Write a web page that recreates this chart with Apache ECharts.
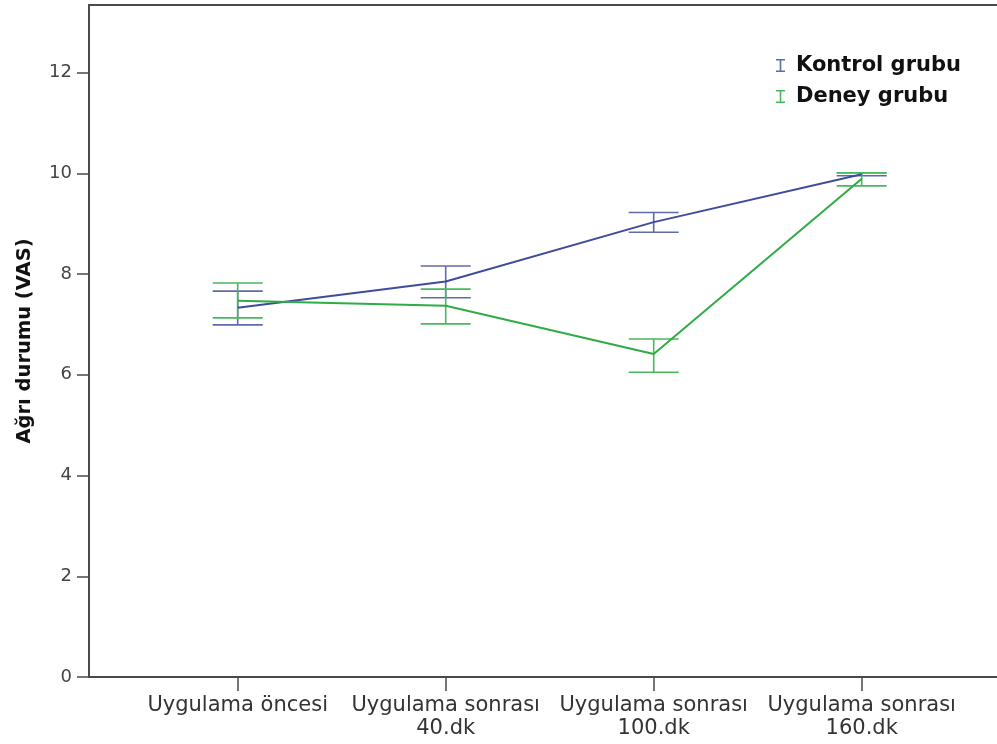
<!DOCTYPE html>
<html>
<head>
<meta charset="utf-8">
<script src="https://cdn.jsdelivr.net/npm/echarts@6/dist/echarts.min.js"></script>
<style>
  html, body { margin: 0; padding: 0; background: #fff; }
  #chart { width: 997px; height: 744px; }
</style>
</head>
<body>
<div id="chart"></div>
<script>
// Time points of the measurement
const categories = ['Uygulama öncesi', 'Uygulama sonrası\n40.dk', 'Uygulama sonrası\n100.dk', 'Uygulama sonrası\n160.dk'];

// Mean VAS pain score and error-bar limits per group
const kontrolMean = [7.33, 7.85, 9.03, 9.98];
const kontrolLow  = [6.99, 7.53, 8.83, 9.95];
const kontrolHigh = [7.66, 8.16, 9.22, 10.01];

const deneyMean = [7.47, 7.37, 6.41, 9.89];
const deneyLow  = [7.13, 7.01, 6.05, 9.75];
const deneyHigh = [7.82, 7.70, 6.71, 10.01];

const yTicks = [0, 2, 4, 6, 8, 10, 12];
const seriesNames = ['Kontrol grubu', 'Deney grubu'];

const BLUE_LINE = '#3f4c9c';
const BLUE_BAR = '#5f6aa8';
const GREEN_LINE = '#2eac45';
const GREEN_BAR = '#48b85c';
const FRAME = '#4a4a4a';
const Y_MAX = 13.34;

// I-beam glyph used as the legend icon
const errorIcon = 'path://M0,0h9v1.6h-3.7v9.8h3.7v1.6h-9v-1.6h3.7v-9.8h-3.7z';

function barData(low, high) {
  return categories.map((_, i) => [i, low[i], high[i]]);
}

function errorBarRenderer(color) {
  return function (params, api) {
    const i = api.value(0);
    const pLo = api.coord([i, api.value(1)]);
    const pHi = api.coord([i, api.value(2)]);
    const half = 25;
    const style = { stroke: color, lineWidth: 1.6 };
    return {
      type: 'group',
      children: [
        { type: 'line', shape: { x1: pLo[0], y1: pLo[1], x2: pHi[0], y2: pHi[1] }, style },
        { type: 'line', shape: { x1: pLo[0] - half, y1: pLo[1], x2: pLo[0] + half, y2: pLo[1] }, style },
        { type: 'line', shape: { x1: pHi[0] - half, y1: pHi[1], x2: pHi[0] + half, y2: pHi[1] }, style }
      ]
    };
  };
}

const chart = echarts.init(document.getElementById('chart'), null, { renderer: 'canvas' });

const frameAxis = (position) => ({
  gridIndex: 0,
  type: 'value',
  position,
  min: 0,
  max: 1,
  axisLine: { show: true, lineStyle: { color: FRAME, width: 2 } },
  axisTick: { show: false },
  axisLabel: { show: false },
  splitLine: { show: false }
});

chart.setOption({
  backgroundColor: '#ffffff',
  animation: false,
  textStyle: { fontFamily: 'DejaVu Sans' },
  grid: [
    // open frame with the value axis, running off the right edge
    { left: 89, top: 5, width: 1000, height: 672, containLabel: false },
    // plotting area for the four time points
    { left: 133.7, top: 5, width: 832, height: 672, containLabel: false }
  ],
  legend: {
    orient: 'vertical',
    left: 771,
    top: 50,
    itemWidth: 9,
    itemHeight: 13,
    itemGap: 10,
    selectedMode: false,
    textStyle: { fontFamily: 'DejaVu Sans', fontWeight: 'bold', fontSize: 21, color: '#111', padding: [0, 0, 0, 6] },
    data: [
      { name: seriesNames[0], icon: errorIcon, itemStyle: { color: BLUE_BAR } },
      { name: seriesNames[1], icon: errorIcon, itemStyle: { color: GREEN_BAR } }
    ]
  },
  xAxis: [
    frameAxis('bottom'),
    frameAxis('top'),
    {
      gridIndex: 1,
      type: 'category',
      data: categories,
      boundaryGap: true,
      axisLine: { show: false },
      axisTick: { show: true, alignWithLabel: true, length: 14, lineStyle: { color: FRAME, width: 1.5 } },
      axisLabel: { fontFamily: 'DejaVu Sans', fontSize: 21, color: '#333', lineHeight: 23, margin: 17, interval: 0 },
      splitLine: { show: false }
    }
  ],
  yAxis: [
    {
      gridIndex: 0,
      type: 'value',
      min: 0,
      max: Y_MAX,
      interval: 2,
      name: 'Ağrı durumu (VAS)',
      nameLocation: 'middle',
      nameGap: 54,
      nameTextStyle: { fontFamily: 'DejaVu Sans', fontWeight: 'bold', fontSize: 19.5, color: '#111' },
      axisLine: { show: true, lineStyle: { color: FRAME, width: 2 } },
      axisTick: { show: true, length: 12, customValues: yTicks, lineStyle: { color: FRAME, width: 1.5 } },
      axisLabel: { fontFamily: 'DejaVu Sans', fontSize: 18, color: '#444', margin: 17, customValues: yTicks },
      splitLine: { show: false }
    },
    { gridIndex: 1, type: 'value', min: 0, max: Y_MAX, show: false, splitLine: { show: false } }
  ],
  series: [
    {
      name: seriesNames[0],
      type: 'custom',
      xAxisIndex: 2,
      yAxisIndex: 1,
      data: barData(kontrolLow, kontrolHigh),
      encode: { x: 0, y: [1, 2] },
      renderItem: errorBarRenderer(BLUE_BAR),
      itemStyle: { color: BLUE_BAR },
      z: 3
    },
    {
      name: seriesNames[1],
      type: 'custom',
      xAxisIndex: 2,
      yAxisIndex: 1,
      data: barData(deneyLow, deneyHigh),
      encode: { x: 0, y: [1, 2] },
      renderItem: errorBarRenderer(GREEN_BAR),
      itemStyle: { color: GREEN_BAR },
      z: 3
    },
    {
      name: seriesNames[0],
      type: 'line',
      xAxisIndex: 2,
      yAxisIndex: 1,
      data: kontrolMean,
      symbol: 'none',
      lineStyle: { color: BLUE_LINE, width: 2 },
      itemStyle: { color: BLUE_LINE },
      z: 4
    },
    {
      name: seriesNames[1],
      type: 'line',
      xAxisIndex: 2,
      yAxisIndex: 1,
      data: deneyMean,
      symbol: 'none',
      lineStyle: { color: GREEN_LINE, width: 2 },
      itemStyle: { color: GREEN_LINE },
      z: 4
    }
  ]
});
</script>
</body>
</html>
